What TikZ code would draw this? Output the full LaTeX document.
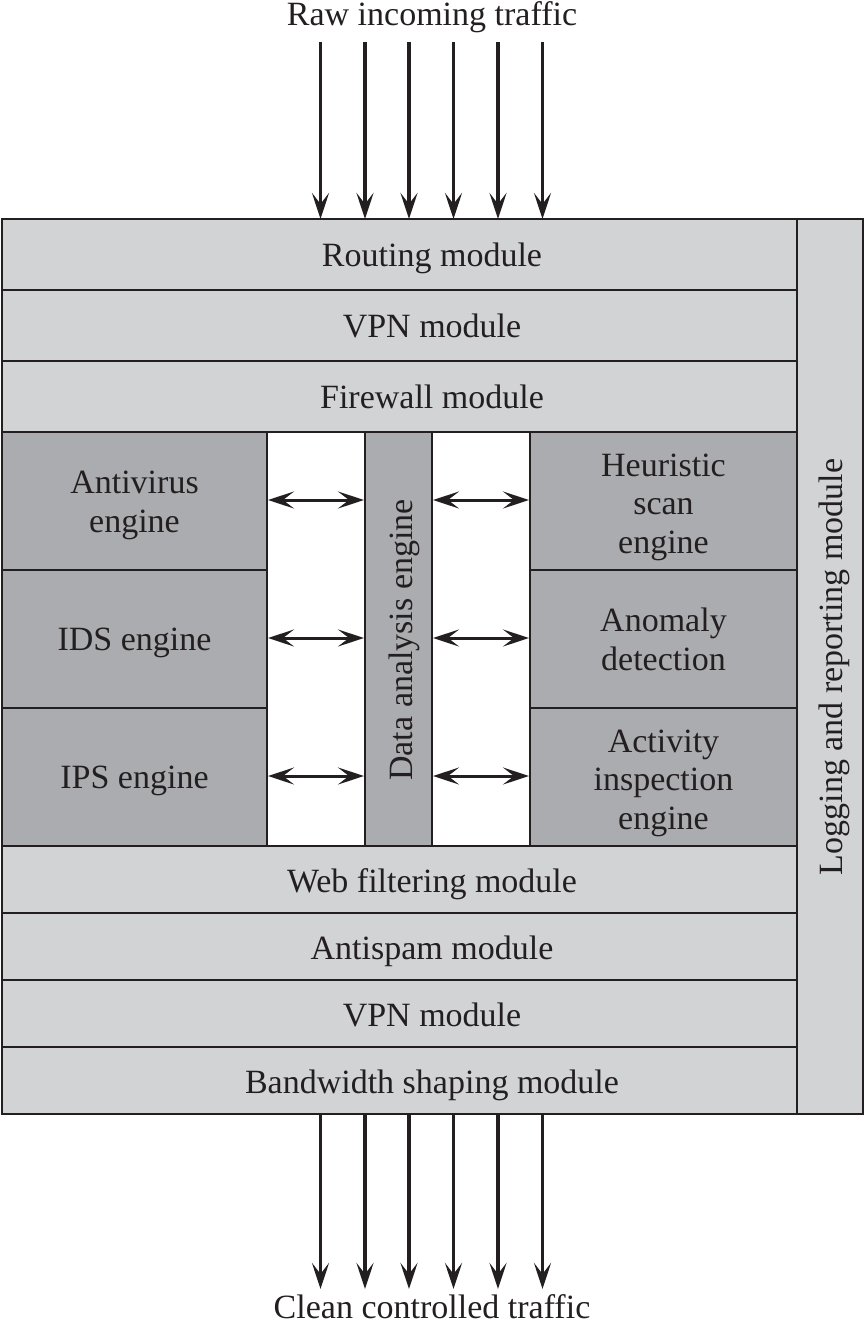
\documentclass[tikz,border=0pt]{standalone}
\usepackage{fontspec}
\setmainfont{Liberation Serif}
\usetikzlibrary{arrows.meta}
\definecolor{lightg}{HTML}{D2D3D5}
\definecolor{darkg}{HTML}{ABACAF}
\definecolor{ink}{HTML}{231F20}
\begin{document}
\begin{tikzpicture}[x=0.5pt,y=-0.5pt,
  lbl/.style={font=\fontsize{17}{19.25}\selectfont, text=ink, align=center, inner sep=0pt, anchor=base},
  lightbox/.style={draw=ink, line width=1pt, fill=lightg},
  darkbox/.style={draw=ink, line width=1pt, fill=darkg},
  flow/.style={draw=ink, line width=1.9pt, -{Stealth[length=13pt,width=8.5pt,inset=5.5pt]}},
  biflow/.style={draw=ink, line width=1.5pt, {Stealth[length=13pt,width=8.5pt,inset=5.5pt]}-{Stealth[length=13pt,width=8.5pt,inset=5.5pt]}}]
\useasboundingbox (0,0) rectangle (865,1324);
% top modules
\draw[lightbox] (2,219) rectangle (797,290);
\node[lbl] (routing) at (432,266) {Routing module};
\draw[lightbox] (2,290) rectangle (797,361);
\node[lbl] (vpn1) at (432,337) {VPN module};
\draw[lightbox] (2,361) rectangle (797,432);
\node[lbl] (fw) at (432,408) {Firewall module};
% middle white area
\draw[draw=ink, line width=1pt, fill=white] (2,432) rectangle (797,846);
% left engines
\draw[darkbox] (2,432) rectangle (267,570);
\node[lbl] (av) at (134.5,532) {Antivirus\\engine};
\draw[darkbox] (2,570) rectangle (267,708);
\node[lbl] (ids) at (134.5,650) {IDS engine};
\draw[darkbox] (2,708) rectangle (267,846);
\node[lbl] (ips) at (134.5,788) {IPS engine};
% data analysis
\draw[darkbox] (365,432) rectangle (432,846);
\node[lbl, rotate=90] (dae) at (412,640) {Data analysis engine};
% right engines
\draw[darkbox] (530,432) rectangle (797,570);
\node[lbl] (heur) at (663.5,553) {Heuristic\\scan\\engine};
\draw[darkbox] (530,570) rectangle (797,708);
\node[lbl] (anom) at (663.5,670) {Anomaly\\detection};
\draw[darkbox] (530,708) rectangle (797,846);
\node[lbl] (act) at (663.5,829) {Activity\\inspection\\engine};
% bidirectional arrows
\foreach \yy [count=\i] in {500,638,776}{
  \coordinate (la\i) at (268,\yy);
  \coordinate (lb\i) at (364,\yy);
  \coordinate (ra\i) at (433,\yy);
  \coordinate (rb\i) at (529,\yy);
  \draw[biflow] (la\i) -- (lb\i);
  \draw[biflow] (ra\i) -- (rb\i);
}
% bottom modules
\draw[lightbox] (2,846) rectangle (797,913);
\node[lbl] (web) at (432,892) {Web filtering module};
\draw[lightbox] (2,913) rectangle (797,980);
\node[lbl] (spam) at (432,959) {Antispam module};
\draw[lightbox] (2,980) rectangle (797,1047);
\node[lbl] (vpn2) at (432,1026) {VPN module};
\draw[lightbox] (2,1047) rectangle (797,1114);
\node[lbl] (bw) at (432,1093) {Bandwidth shaping module};
% logging
\draw[lightbox] (797,219) rectangle (863,1114);
\node[lbl, rotate=90] (log) at (842,667) {Logging and reporting module};
% labels
\node[lbl] (raw) at (432,25) {Raw incoming traffic};
\node[lbl] (clean) at (432,1318) {Clean controlled traffic};
% flow arrows
\foreach \xx [count=\i] in {320.5,365,409,453.5,498,542.5}{
  \coordinate (t\i) at (\xx,42);
  \coordinate (b\i) at (\xx,219);
  \draw[flow] (t\i) -- (b\i);
  \coordinate (c\i) at (\xx,1114);
  \coordinate (d\i) at (\xx,1289);
  \draw[flow] (c\i) -- (d\i);
}
\end{tikzpicture}
\end{document}
